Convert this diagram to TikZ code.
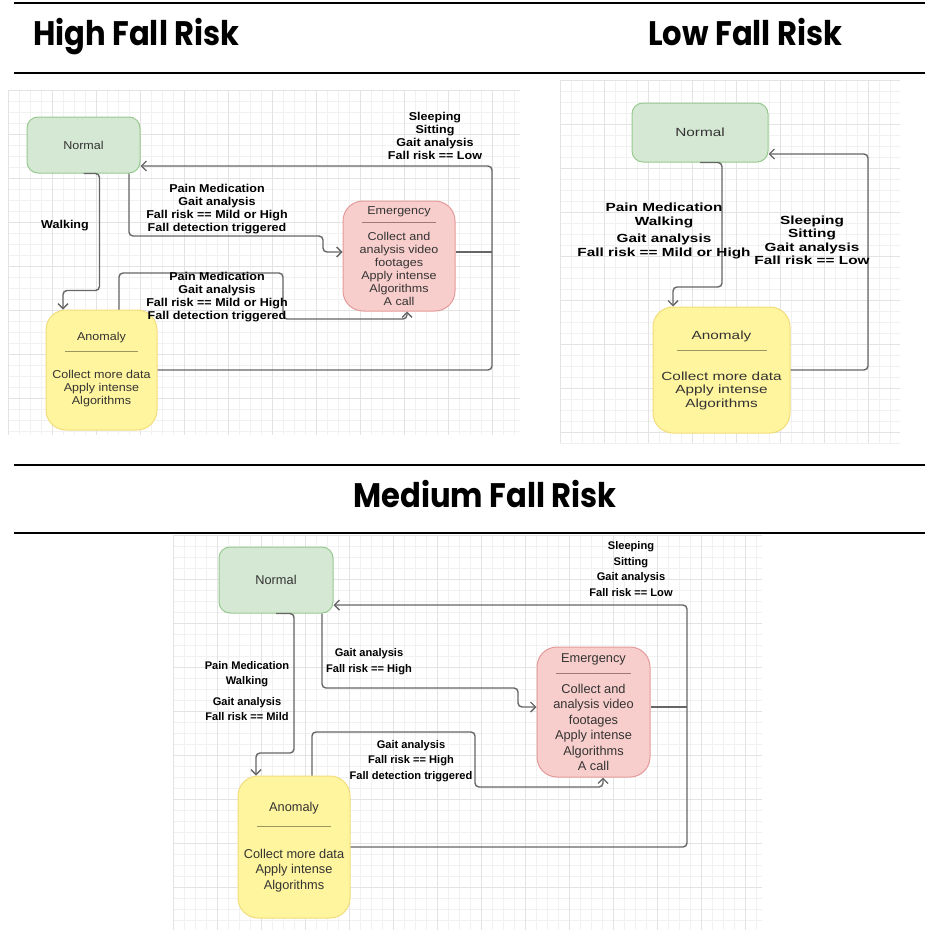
\documentclass[tikz,border=0pt]{standalone}
\usepackage{fontspec}
\usepackage{tikz}
\usetikzlibrary{arrows.meta}
\setmainfont{Liberation Sans}
\newfontfamily\headfont{Poppins}[FakeStretch=0.9]
\newfontfamily\hifont{Liberation Sans}[FakeStretch=1.1]
\newfontfamily\lofont{Liberation Sans}[FakeStretch=1.3]
\definecolor{okfill}{HTML}{D5E8D4}
\definecolor{okline}{HTML}{97C98F}
\definecolor{anfill}{HTML}{FFF59F}
\definecolor{anline}{HTML}{F2DC7A}
\definecolor{anbar}{HTML}{9C9660}
\definecolor{emfill}{HTML}{F8CECC}
\definecolor{emline}{HTML}{E39A98}
\definecolor{embar}{HTML}{A07878}
\definecolor{ink}{HTML}{333333}
\definecolor{wire}{HTML}{666666}
\definecolor{gridlo}{HTML}{F1F1F1}
\definecolor{gridhi}{HTML}{E3E3E3}
\newcommand{\hiset}{\hifont\fontsize{11.4}{13}\selectfont}
\newcommand{\loset}{\lofont\fontsize{11.8}{13.5}\selectfont}
\newcommand{\mdset}{\fontsize{12.8}{15.5}\selectfont}
\newcommand{\splitbar}[2]{\textcolor{#2}{\rule{#1pt}{1.3pt}}}

\begin{document}
\begin{tikzpicture}[
      x=1pt, y=-1pt,
      >={Straight Barb[length=5pt,width=10pt]},
      state/.style={draw, line width=1pt, rounded corners=11pt, align=center,
                    text=ink, inner sep=2pt},
      normal/.style={state, fill=okfill, draw=okline},
      anomaly/.style={state, fill=anfill, draw=anline, rounded corners=20pt},
      emerg/.style={state, fill=emfill, draw=emline, rounded corners=20pt},
      elbl/.style={align=center, font=\bfseries, text=black, inner sep=0pt},
      flow/.style={->, line width=1.4pt, draw=wire, rounded corners=4pt},
      link/.style={line width=1.4pt, draw=wire, rounded corners=4pt},
      minorgrid/.style={draw=gridlo, line width=0.6pt},
      majorgrid/.style={draw=gridhi, line width=0.7pt},
      heading/.style={font=\headfont\bfseries\fontsize{34}{36}\selectfont, inner sep=0pt},
      hrule/.style={line width=2.4pt, draw=black}
  ]
    \useasboundingbox (0,0) rectangle (925,934);

    \foreach \x in {8,19,...,520} \draw[minorgrid] (\x,90) -- (\x,435);
    \foreach \y in {90,101,...,435} \draw[minorgrid] (8,\y) -- (520,\y);
    \foreach \x in {8,52,...,520} \draw[majorgrid] (\x,90) -- (\x,435);
    \foreach \y in {90,134,...,435} \draw[majorgrid] (8,\y) -- (520,\y);

    \foreach \x in {560,571,...,900} \draw[minorgrid] (\x,80) -- (\x,443);
    \foreach \y in {80,91,...,443} \draw[minorgrid] (560,\y) -- (900,\y);
    \foreach \x in {560,604,...,900} \draw[majorgrid] (\x,80) -- (\x,443);
    \foreach \y in {80,124,...,443} \draw[majorgrid] (560,\y) -- (900,\y);

    \foreach \x in {173,184,...,762} \draw[minorgrid] (\x,535) -- (\x,930);
    \foreach \y in {535,546,...,930} \draw[minorgrid] (173,\y) -- (762,\y);
    \foreach \x in {173,217,...,762} \draw[majorgrid] (\x,535) -- (\x,930);
    \foreach \y in {535,579,...,930} \draw[majorgrid] (173,\y) -- (762,\y);

    \draw[hrule] (14,3) -- (925,3);
    \draw[hrule] (14,73) -- (925,73);
    \draw[hrule] (14,465) -- (925,465);
    \draw[hrule] (14,533) -- (925,533);
    \node[heading, anchor=base west] (highttl) at (33,46) {High Fall Risk};
    \node[heading, anchor=base west] (lowttl) at (648,46) {Low Fall Risk};
    \node[heading, anchor=base] (medttl) at (485,507) {Medium Fall Risk};

    \node[normal, minimum width=113, minimum height=56, font=\hiset] (hnormal) at (83.5,145) {Normal};
    \node[anomaly, minimum width=111, minimum height=120, font=\hiset] (hanomaly) at (101.5,370)
      {Anomaly\\[-2pt]\splitbar{73}{anbar}\\[14pt]Collect more data\\Apply intense\\Algorithms};
    \node[emerg, minimum width=112, minimum height=110, font=\hiset] (hemerg) at (399,256)
      {Emergency\\[-4pt]\splitbar{74}{embar}\\[4pt]Collect and\\analysis video\\footages\\Apply intense\\Algorithms\\A call};

    \draw[flow] (hnormal.south) -| ++(16,117) -| ([xshift=-38.5]hanomaly.north);
    \draw[flow] ([xshift=45.5]hnormal.south) |- (323,236) |- ([yshift=4]hemerg.west);
    \draw[flow] ([xshift=17.5]hanomaly.north) |- (283,273) |- (407,319) -- ([xshift=8]hemerg.south);
    \draw[flow] (hanomaly.east) -| (492,166) -- ([yshift=-21]hnormal.east);
    \coordinate (hjoin) at (492,252);
    \draw[link] ([yshift=4]hemerg.east) -- (hjoin);

    \node[elbl, font=\hiset\bfseries] (hwalk) at (65,226) {Walking};
    \node[elbl, font=\hiset\bfseries] (hpaina) at (217,209)
      {Pain Medication\\Gait analysis\\Fall risk == Mild or High\\Fall detection triggered};
    \node[elbl, font=\hiset\bfseries] (hpainb) at (217,297)
      {Pain Medication\\Gait analysis\\Fall risk == Mild or High\\Fall detection triggered};
    \node[elbl, font=\hiset\bfseries] (hrest) at (435,135.5)
      {Sleeping\\Sitting\\Gait analysis\\Fall risk == Low};

    \node[normal, minimum width=136, minimum height=59, font=\loset] (lnormal) at (700,132.5) {Normal};
    \node[anomaly, minimum width=137, minimum height=126, font=\loset] (lanomaly) at (721.5,370)
      {Anomaly\\[-1.5pt]\splitbar{90}{anbar}\\[15.5pt]Collect more data\\Apply intense\\Algorithms};

    \draw[flow] (lnormal.south) -| (722,287) -| ([xshift=-48.5]lanomaly.north);
    \draw[flow] (lanomaly.east) -| (868,154) -- ([yshift=-21.5]lnormal.east);

    \node[elbl, font=\loset\bfseries] (lpain) at (664,231)
      {Pain Medication\\Walking\\[4pt]Gait analysis\\Fall risk == Mild or High};
    \node[elbl, font=\loset\bfseries] (lrest) at (812,240.5)
      {Sleeping\\Sitting\\Gait analysis\\Fall risk == Low};

    \node[normal, minimum width=114, minimum height=66, font=\mdset] (mnormal) at (276,580) {Normal};
    \node[anomaly, minimum width=112, minimum height=142, font=\mdset] (manomaly) at (294,847)
      {Anomaly\\[0pt]\splitbar{74}{anbar}\\[15.5pt]Collect more data\\Apply intense\\Algorithms};
    \node[emerg, minimum width=113, minimum height=130, font=\mdset] (memerg) at (593.5,712)
      {Emergency\\[-3.5pt]\splitbar{75}{embar}\\[3.5pt]Collect and\\analysis video\\footages\\Apply intense\\Algorithms\\A call};

    \draw[flow] (mnormal.south) -| (294,753) -| ([xshift=-38]manomaly.north);
    \draw[flow] ([xshift=46]mnormal.south) |- (518,688) |- ([yshift=5]memerg.west);
    \draw[flow] ([xshift=18]manomaly.north) |- (475,732) |- (603,787) -- ([xshift=9.5]memerg.south);
    \draw[flow] (manomaly.east) -| (687,605) -- ([yshift=-25]mnormal.east);
    \coordinate (mjoin) at (687,707);
    \draw[link] ([yshift=5]memerg.east) -- (mjoin);

    \node[elbl, font=\mdset\bfseries\fontsize{11.1}{15.5}\selectfont] (mpain) at (247,691)
      {Pain Medication\\Walking\\[5pt]Gait analysis\\Fall risk == Mild};
    \node[elbl, font=\mdset\bfseries\fontsize{11.1}{15.5}\selectfont] (mgait) at (369,661.5)
      {Gait analysis\\Fall risk == High};
    \node[elbl, font=\mdset\bfseries\fontsize{11.1}{15.5}\selectfont] (mfall) at (411,761)
      {Gait analysis\\Fall risk == High\\Fall detection triggered};
    \node[elbl, font=\mdset\bfseries\fontsize{11.1}{15.5}\selectfont] (mrest) at (631,569)
      {Sleeping\\Sitting\\Gait analysis\\Fall risk == Low};
  \end{tikzpicture}
\end{document}
